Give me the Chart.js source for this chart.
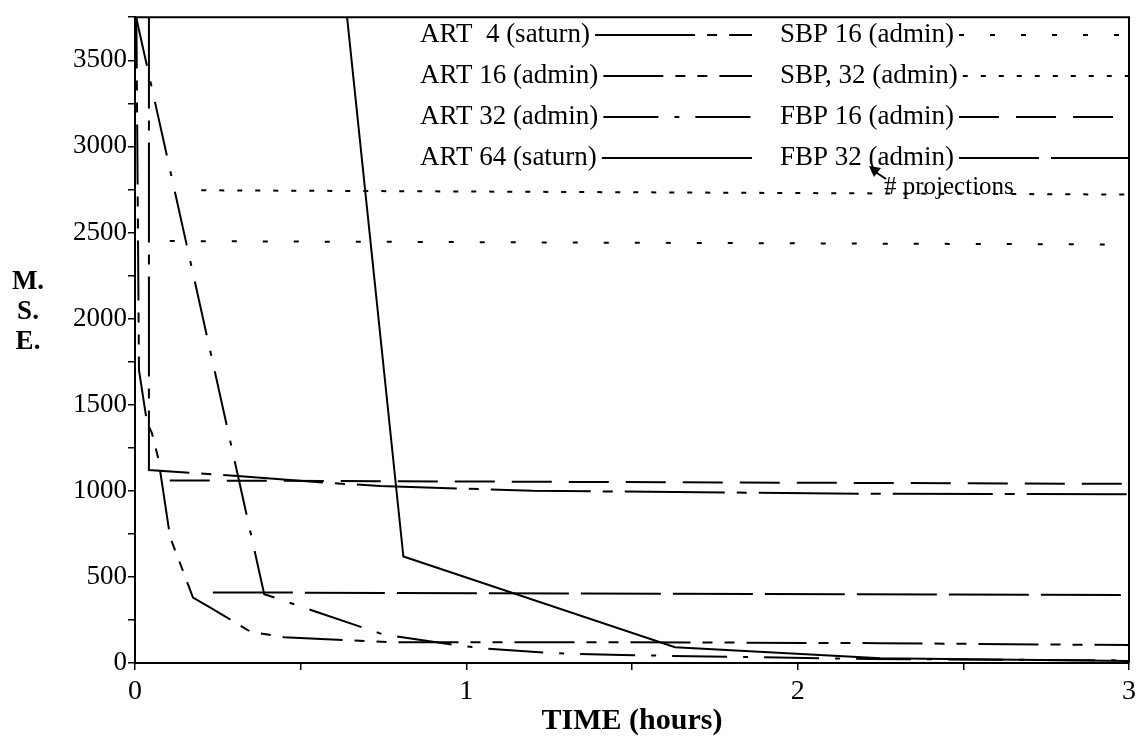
<!DOCTYPE html>
<html>
<head>
<meta charset="utf-8">
<script src="https://cdn.jsdelivr.net/npm/chart.js@4"></script>
<style>
  html, body { margin: 0; padding: 0; background: #fff; }
</style>
</head>
<body>
<canvas id="chart" width="1141" height="744"></canvas>
<script>
// time in hours vs M.S.E.
const art4Time  = [0.042, 0.042, 0.31, 0.58, 0.74, 1.2, 2.2, 3.0];
const art4Mse   = [3800, 1120, 1086, 1046, 1028, 1000, 983, 980];

const art16Time = [0.004, 0.012, 0.036, 0.051, 0.07, 0.085, 0.106, 0.13, 0.175, 0.23, 0.35, 0.45, 0.77, 1.47, 2.25, 3.0];
const art16Mse  = [3800, 1700, 1400, 1335, 1190, 1000, 730, 610, 380, 318, 180, 150, 121, 121, 115, 104];

const art32Time = [0, 0.39, 0.75, 0.97, 1.04, 1.25, 1.47, 2.22, 3.0];
const art32Mse  = [3780, 400, 165, 104, 87, 58, 46, 23, 15];

const art64Time = [0.62, 0.81, 1.63, 2.25, 3.0];
const art64Mse  = [4120, 618, 92, 28, 12];

const sbp16Time = [0.105, 3.0];
const sbp16Mse  = [2450, 2430];

const sbp32Time = [0.2, 3.0];
const sbp32Mse  = [2745, 2720];

const fbp16Time = [0.105, 3.0];
const fbp16Mse  = [1060, 1040];

const fbp32Time = [0.235, 3.0];
const fbp32Mse  = [410, 395];

const FONT = '"Liberation Serif", "Times New Roman", serif';

function series(label, xs, ys, dash, width) {
  return {
    label: label,
    data: xs.map((x, i) => ({ x: x, y: ys[i] })),
    borderColor: '#000',
    borderWidth: width || 2,
    borderDash: dash,
    pointRadius: 0,
    tension: 0,
    fill: false
  };
}

const datasets = [
  series('ART  4 (saturn)', art4Time, art4Mse, [100, 12, 10, 12]),
  series('ART 16 (admin)', art16Time, art16Mse, [60, 12, 10, 12, 10, 12]),
  series('ART 32 (admin)', art32Time, art32Mse, [55, 16, 5, 16]),
  series('ART 64 (saturn)', art64Time, art64Mse, []),
  series('SBP 16 (admin)', sbp16Time, sbp16Mse, [5, 26]),
  series('SBP, 32 (admin)', sbp32Time, sbp32Mse, [5, 13]),
  series('FBP 16 (admin)', fbp16Time, fbp16Mse, [40, 17]),
  series('FBP 32 (admin)', fbp32Time, fbp32Mse, [80, 12])
];

// box, inline legend, y title and the note
const extras = {
  id: 'extras',
  afterDraw(chart) {
    const ctx = chart.ctx;
    const a = chart.chartArea;
    ctx.save();
    ctx.strokeStyle = '#000';
    ctx.lineWidth = 2;
    ctx.setLineDash([]);
    ctx.beginPath();
    ctx.moveTo(a.left, a.top);
    ctx.lineTo(a.right, a.top);
    ctx.lineTo(a.right, a.bottom);
    ctx.stroke();

    ctx.font = '27px ' + FONT;
    ctx.fillStyle = '#000';
    ctx.textBaseline = 'middle';
    chart.data.datasets.forEach((ds, i) => {
      const col = i < 4 ? 0 : 1;
      const y = 35 + (i % 4) * 41;
      const tx = col ? 780 : 420;
      const end = col ? 1128 : 752;
      ctx.fillText(ds.label, tx, y);
      const w = ctx.measureText(ds.label).width;
      ctx.beginPath();
      ctx.setLineDash(ds.borderDash || []);
      ctx.lineWidth = ds.borderWidth;
      ctx.moveTo(tx + w + 5, y);
      ctx.lineTo(end, y);
      ctx.stroke();
    });
    ctx.setLineDash([]);

    // y title, stacked letters
    ctx.font = 'bold 27px ' + FONT;
    ctx.textAlign = 'center';
    ['M.', 'S.', 'E.'].forEach((t, i) => ctx.fillText(t, 28, 282 + i * 30));

    // "# projections" pointer
    ctx.textAlign = 'left';
    ctx.font = '25px ' + FONT;
    ctx.fillText('# projections', 884, 187);
    ctx.lineWidth = 2;
    ctx.beginPath();
    ctx.moveTo(886, 179);
    ctx.lineTo(874, 171);
    ctx.stroke();
    ctx.beginPath();
    ctx.moveTo(869, 166);
    ctx.lineTo(881, 168);
    ctx.lineTo(874, 177);
    ctx.closePath();
    ctx.fill();
    ctx.restore();
  }
};

const chart = new Chart(document.getElementById('chart'), {
  type: 'line',
  data: { datasets: datasets },
  options: {
    responsive: false,
    animation: false,
    devicePixelRatio: 1,
    layout: { padding: { left: 0, right: 10, top: 14, bottom: 0 } },
    plugins: { legend: { display: false }, tooltip: { enabled: false } },
    scales: {
      x: {
        type: 'linear',
        min: 0,
        max: 3,
        afterFit: s => { s.height = 81; },
        ticks: {
          stepSize: 0.5,
          autoSkip: false,
          maxRotation: 0,
          padding: 5,
          color: '#000',
          font: { family: FONT, size: 28 },
          callback: v => Number.isInteger(v) ? v : ''
        },
        grid: { drawOnChartArea: false, drawTicks: true, tickLength: 7, color: '#000', lineWidth: 1.5 },
        border: { display: true, color: '#000', width: 2 },
        title: {
          display: true,
          text: 'TIME (hours)',
          color: '#000',
          font: { family: FONT, size: 30, weight: 'bold' },
          padding: { top: 0, bottom: 5 }
        }
      },
      y: {
        type: 'linear',
        min: 0,
        max: 3750,
        afterFit: s => { s.width = 135; },
        ticks: {
          stepSize: 250,
          autoSkip: false,
          padding: 1,
          color: '#000',
          font: { family: FONT, size: 27 },
          callback: v => v % 500 === 0 ? v : ''
        },
        grid: { drawOnChartArea: false, drawTicks: true, tickLength: 7, color: '#000', lineWidth: 1.5 },
        border: { display: true, color: '#000', width: 2 }
      }
    }
  },
  plugins: [extras]
});
</script>
</body>
</html>
